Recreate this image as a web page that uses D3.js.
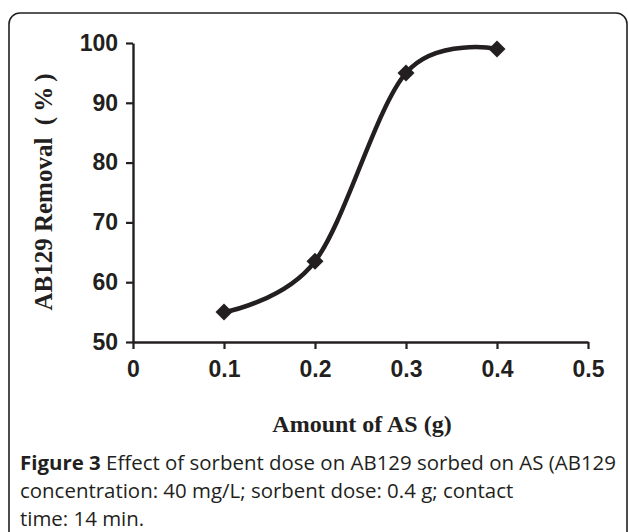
<!DOCTYPE html>
<html><head><meta charset="utf-8">
<script src="https://cdn.jsdelivr.net/npm/d3@7"></script>
<style>body{margin:0;background:#fff}svg{display:block}</style>
</head><body>
<script>
const amounts = [0.1, 0.2, 0.3, 0.4];
const removal = [55, 63.5, 95, 99];
const xTicks = [0, 0.1, 0.2, 0.3, 0.4, 0.5];
const yTicks = [50, 60, 70, 80, 90, 100];
const xTitle = "Amount of AS (g)";
const yTitle = "AB129 Removal\u2002(\u2009%\u2009)";
const captionLines = [
  [["Figure 3", true], [" Effect of sorbent dose on AB129 sorbed on AS (AB129", false]],
  [["concentration: 40 mg/L; sorbent dose: 0.4 g; contact", false]],
  [["time: 14 min.", false]]
];

const W = 629, H = 532;
const svg = d3.select("body").append("svg").attr("width", W).attr("height", H);
const ink = "#231f20";

svg.append("rect").attr("x", 9).attr("y", 13).attr("width", 618).attr("height", 540)
  .attr("rx", 11).attr("fill", "none").attr("stroke", ink).attr("stroke-width", 1.6);

const x = d3.scaleLinear().domain([0, 0.5]).range([133, 588]);
const y = d3.scaleLinear().domain([50, 100]).range([342, 43]);

const gx = svg.append("g").attr("transform", `translate(0,${y(50)})`)
  .call(d3.axisBottom(x).tickValues(xTicks).tickSize(7).tickSizeOuter(0).tickPadding(12)
    .tickFormat(d => d === 0 ? "0" : d3.format(".1f")(d)));
const gy = svg.append("g").attr("transform", `translate(${x(0)},0)`)
  .call(d3.axisLeft(y).tickValues(yTicks).tickSize(7).tickSizeOuter(0).tickPadding(8));
[gx, gy].forEach(g => {
  g.select(".domain").attr("stroke", ink).attr("stroke-width", 2.4);
  g.selectAll(".tick line").attr("stroke", ink).attr("stroke-width", 2.2);
  g.selectAll(".tick text").attr("fill", ink)
    .style("font-family", "'Liberation Sans', Arial, sans-serif")
    .style("font-weight", "bold").style("font-size", "23px");
});

const pts = amounts.map((a, i) => [a, removal[i]]);
svg.append("path").datum(pts)
  .attr("d", d3.line().x(d => x(d[0])).y(d => y(d[1])).curve(d3.curveCardinal.tension(0)))
  .attr("fill", "none").attr("stroke", ink).attr("stroke-width", 4.5);

svg.selectAll(".pt").data(pts).enter().append("path")
  .attr("transform", d => `translate(${x(d[0])},${y(d[1])}) rotate(45)`)
  .attr("d", d3.symbol(d3.symbolSquare, 144)())
  .attr("fill", ink);

svg.append("text").attr("x", 362).attr("y", 432).attr("text-anchor", "middle")
  .style("font-family", "'Liberation Serif', 'Times New Roman', serif")
  .style("font-weight", "bold").style("font-size", "24px").attr("fill", ink).text(xTitle);
svg.append("text").attr("transform", "translate(52,192) rotate(-90)").attr("text-anchor", "middle")
  .style("font-family", "'Liberation Serif', 'Times New Roman', serif")
  .style("font-weight", "bold").style("font-size", "25px").attr("fill", ink).text(yTitle);

const cap = svg.append("g");
const capTexts = captionLines.map((line, i) => {
  const t = cap.append("text").attr("x", 20).attr("y", 470 + i * 28)
    .style("font-family", "'Open Sans', sans-serif").style("font-size", "16px").attr("fill", ink);
  line.forEach(([s, b]) => t.append("tspan").style("font-weight", b ? "bold" : "normal").text(s));
  return t;
});
const w0 = capTexts[0].node().getComputedTextLength();
const fs = 16 * 596 / w0;
capTexts.forEach(t => t.style("font-size", fs.toFixed(2) + "px"));
</script>
</body></html>
